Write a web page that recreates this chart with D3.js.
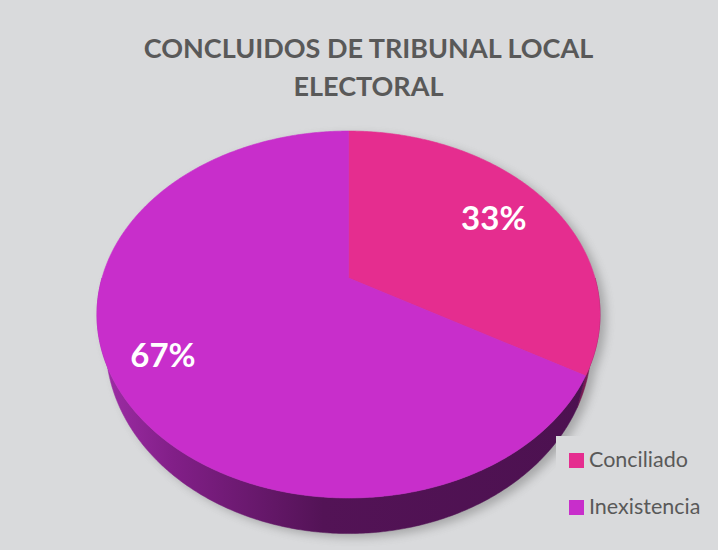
<!DOCTYPE html>
<html>
<head>
<meta charset="utf-8">
<script src="https://cdn.jsdelivr.net/npm/d3@7/dist/d3.min.js"></script>
<style>
  html, body { margin: 0; padding: 0; background: #d9dadc; }
  svg { display: block; }
</style>
</head>
<body>
<svg id="chart" width="718" height="550"></svg>
<script>
// ---- data ----
const titleLines = ["CONCLUIDOS DE TRIBUNAL LOCAL", "ELECTORAL"];
const categories = ["Conciliado", "Inexistencia"];
const values = [1, 2];
const colors = ["#e52d8f", "#c82ecb"];
const sideColors = ["#7a1a52", "url(#sideGrad)"];

// ---- geometry (perspective disc) ----
const W = 718, H = 550;
const X0 = 348.5, Y0 = 278;   // apex
const k = 0.199;              // perspective factor
const P = 246.5, Q = 176.2;   // horizontal / vertical radii
const D = 28.5;               // depth
const bottomScale = 0.965;    // bottom disc is farther away

function proj(theta, r, dy) {
  const u = r * Math.sin(theta), v = r * Math.cos(theta);
  const d = 1 + k * v;
  const s = dy ? bottomScale : 1;
  return [X0 + s * P * u / d, Y0 - Q * v / d + (dy || 0) / d];
}

const svg = d3.select("#chart");
svg.append("rect").attr("width", W).attr("height", H).attr("fill", "#d9dadc");

const defs = svg.append("defs");
const grad = defs.append("linearGradient").attr("id", "sideGrad")
  .attr("gradientUnits", "userSpaceOnUse")
  .attr("x1", 97).attr("y1", 0).attr("x2", 600).attr("y2", 0);
[[0, "#a02ea8"], [0.15, "#821f88"], [0.45, "#531356"], [1, "#4c1150"]].forEach(s =>
  grad.append("stop").attr("offset", s[0]).attr("stop-color", s[1]));
const filt = defs.append("filter").attr("id", "shadow")
  .attr("x", "-20%").attr("y", "-20%").attr("width", "140%").attr("height", "140%");
filt.append("feGaussianBlur").attr("stdDeviation", 5);

const pie = d3.pie().sort(null).value(d => d)
  .startAngle(0).endAngle(2 * Math.PI);
const arcs = pie(values);

function rimPts(a0, a1, r, dy) {
  const n = Math.max(2, Math.ceil((a1 - a0) / 0.01));
  return d3.range(n + 1).map(i => proj(a0 + (a1 - a0) * i / n, r, dy));
}
const line = d3.line();

// shadow
const sh = svg.append("g").attr("filter", "url(#shadow)")
  .attr("transform", "translate(6,4)").attr("opacity", 0.45);
sh.append("path").attr("d", line(rimPts(0, 2 * Math.PI, 1, 0)) + "Z").attr("fill", "#6a6a6a");
sh.append("path").attr("d", line(rimPts(0, 2 * Math.PI, 1, D)) + "Z").attr("fill", "#6a6a6a");

// sides (front half only; tops drawn afterwards cover the rest)
const thR = Math.PI / 2, thL = 3 * Math.PI / 2;
arcs.forEach((a, i) => {
  const s0 = Math.max(a.startAngle, thR), s1 = Math.min(a.endAngle, thL);
  if (s0 >= s1) return;
  const top = rimPts(s0, s1, 1, 0);
  const bot = rimPts(s0, s1, 1, D).reverse();
  svg.append("path").attr("d", line(top.concat(bot)) + "Z")
    .attr("fill", sideColors[i]).attr("stroke", sideColors[i]).attr("stroke-width", 0.5);
});

// tops
arcs.forEach((a, i) => {
  const pts = [[X0, Y0]].concat(rimPts(a.startAngle, a.endAngle, 1, 0));
  svg.append("path").attr("d", line(pts) + "Z")
    .attr("fill", colors[i]).attr("stroke", colors[i]).attr("stroke-width", 0.6);
});

// labels
const total = d3.sum(values);
const labelR = [0.73, 0.8];
arcs.forEach((a, i) => {
  const m = (a.startAngle + a.endAngle) / 2;
  const p = proj(m, labelR[i], 0);
  svg.append("text").attr("x", p[0]).attr("y", p[1] + 12)
    .attr("text-anchor", "middle")
    .attr("font-family", "Lato, 'Open Sans', sans-serif")
    .attr("font-weight", "bold").attr("font-size", 33).attr("fill", "#ffffff")
    .text(d3.format(".0%")(a.value / total));
});

// title
const baselines = [58, 96];
titleLines.forEach((t, i) => {
  svg.append("text").attr("x", 368.5).attr("y", baselines[i])
    .attr("text-anchor", "middle")
    .attr("font-family", "Lato, 'Open Sans', sans-serif")
    .attr("font-weight", "bold").attr("font-size", 27).attr("fill", "#595959")
    .text(t);
});

// legend
svg.append("rect").attr("x", 556).attr("y", 436).attr("width", 162).attr("height", 114)
  .attr("fill", "#d9dadc");
const leg = svg.append("g");
categories.forEach((c, i) => {
  const y = 453 + i * 47;
  leg.append("rect").attr("x", 569).attr("y", y).attr("width", 15).attr("height", 15)
    .attr("fill", colors[i]);
  leg.append("text").attr("x", 589).attr("y", y + 14)
    .attr("font-family", "Lato, 'Open Sans', sans-serif")
    .attr("font-size", 21.5).attr("fill", "#595959").text(c);
});
</script>
</body>
</html>
